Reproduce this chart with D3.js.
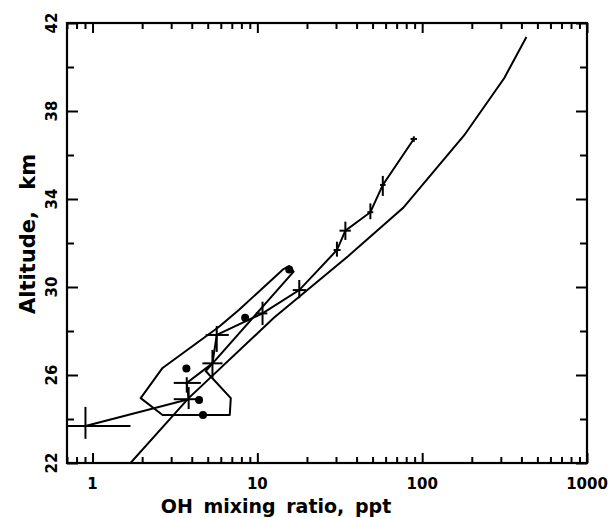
<!DOCTYPE html>
<html>
<head>
<meta charset="utf-8">
<script src="https://cdn.jsdelivr.net/npm/d3@7"></script>
<style>
  body { margin: 0; background: #fff; }
  text { font-family: 'DejaVu Sans', sans-serif; fill: #000; }
</style>
</head>
<body>
<svg id="chart" width="610" height="518"></svg>
<script>
// model profile (smooth curve)
const modelOH = [1.70, 3.83, 12.6, 35.5, 76.7, 180, 315, 429];
const modelAlt = [22.0, 24.95, 28.6, 31.4, 33.6, 36.9, 39.5, 41.36];

// measured profile with error bars
const obsOH = [0.906, 3.83, 3.73, 5.34, 5.67, 10.75, 17.96, 30.4, 34.2, 48.5, 57.7, 89.0];
const obsAlt = [23.68, 24.9, 25.64, 26.53, 27.82, 28.8, 29.86, 31.68, 32.56, 33.4, 34.64, 36.73];
const obsOHlo = [0.45, 3.11, 3.11, 4.64, 4.86, 9.79, 16.4, 29.0, 31.5, 46.5, 55.5, 85];
const obsOHhi = [1.70, 4.45, 4.54, 6.15, 6.71, 11.5, 19.75, 32.0, 36.9, 50.5, 60, 93];
const obsAltLo = [23.1, 24.45, 25.2, 25.86, 27.05, 28.27, 29.49, 31.38, 32.14, 33.08, 34.14, 36.6];
const obsAltHi = [24.55, 25.45, 25.9, 27.14, 28.23, 29.33, 30.32, 32.06, 32.97, 33.8, 35.05, 36.85];

// envelope polygon
const envOH = [1.96, 2.66, 5.83, 7.72, 14.3, 15.6, 16.6, 4.86, 6.90, 6.80, 2.66];
const envAlt = [24.95, 26.32, 28.18, 28.95, 30.8, 30.95, 30.7, 26.18, 24.95, 24.18, 24.18];

// single points
const dotOH = [3.71, 4.43, 4.68, 8.43, 15.6];
const dotAlt = [26.3, 24.86, 24.18, 28.6, 30.8];

const xTicks = [1, 10, 100, 1000];
const yTicks = [22, 26, 30, 34, 38, 42];
const yMinor = [24, 28, 32, 36, 40];

const m = { left: 67, right: 587, top: 23, bottom: 463 };

const svg = d3.select('#chart');
const x = d3.scaleLog().domain([0.7, 1000]).range([m.left, m.right]);
const y = d3.scaleLinear().domain([22, 42]).range([m.bottom, m.top]);

svg.append('defs').append('clipPath').attr('id', 'clip')
  .append('rect').attr('x', m.left).attr('y', m.top)
  .attr('width', m.right - m.left).attr('height', m.bottom - m.top);

const xMinor = [];
[0.1, 1, 10, 100].forEach((d) => {
  for (let k = 2; k <= 9; k++) {
    const v = d * k;
    if (v >= 0.7 && v <= 1000) xMinor.push(v);
  }
});

// axes: ticks inward on all four sides
svg.append('g').attr('transform', `translate(0,${m.bottom})`)
  .call(d3.axisTop(x).tickValues(xTicks).tickSize(10).tickFormat(''));
svg.append('g').attr('transform', `translate(0,${m.bottom})`)
  .call(d3.axisTop(x).tickValues(xMinor).tickSize(6).tickFormat(''));
svg.append('g').attr('transform', `translate(0,${m.top})`)
  .call(d3.axisBottom(x).tickValues(xTicks).tickSize(10).tickFormat(''));
svg.append('g').attr('transform', `translate(0,${m.top})`)
  .call(d3.axisBottom(x).tickValues(xMinor).tickSize(6).tickFormat(''));
svg.append('g').attr('transform', `translate(${m.left},0)`)
  .call(d3.axisRight(y).tickValues(yTicks).tickSize(11).tickFormat(''));
svg.append('g').attr('transform', `translate(${m.left},0)`)
  .call(d3.axisRight(y).tickValues(yMinor).tickSize(7).tickFormat(''));
svg.append('g').attr('transform', `translate(${m.right},0)`)
  .call(d3.axisLeft(y).tickValues(yTicks).tickSize(11).tickFormat(''));
svg.append('g').attr('transform', `translate(${m.right},0)`)
  .call(d3.axisLeft(y).tickValues(yMinor).tickSize(7).tickFormat(''));

svg.selectAll('.domain').remove();
svg.selectAll('.tick line').attr('stroke', '#000').attr('stroke-width', 2);

svg.append('rect')
  .attr('x', m.left).attr('y', m.top)
  .attr('width', m.right - m.left).attr('height', m.bottom - m.top)
  .attr('fill', 'none').attr('stroke', '#000').attr('stroke-width', 2.2);

// tick labels
svg.selectAll('.xlab').data(xTicks).enter().append('text')
  .attr('x', (d) => x(d)).attr('y', 489)
  .attr('text-anchor', 'middle')
  .style('font-size', '15px').style('font-weight', 'bold')
  .text((d) => d);

svg.selectAll('.ylab').data(yTicks).enter().append('text')
  .attr('transform', (d) => `translate(57,${y(d)}) rotate(-90)`)
  .attr('text-anchor', 'middle')
  .style('font-size', '15px').style('font-weight', 'bold')
  .text((d) => d);

svg.append('text')
  .attr('x', 276).attr('y', 513)
  .attr('text-anchor', 'middle')
  .style('font-size', '19px').style('font-weight', 'bold')
  .style('word-spacing', '4px')
  .text('OH mixing ratio, ppt');

svg.append('text')
  .attr('transform', `translate(35,234) rotate(-90)`)
  .attr('text-anchor', 'middle')
  .style('font-size', '21px').style('font-weight', 'bold')
  .style('word-spacing', '14px')
  .text('Altitude, km');

const plot = svg.append('g').attr('clip-path', 'url(#clip)');

const line = d3.line().x((d) => x(d[0])).y((d) => y(d[1]));
const closed = d3.line().x((d) => x(d[0])).y((d) => y(d[1])).curve(d3.curveLinearClosed);

plot.append('path')
  .datum(modelOH.map((d, i) => [d, modelAlt[i]]))
  .attr('fill', 'none').attr('stroke', '#000').attr('stroke-width', 2)
  .attr('d', line);

plot.append('path')
  .datum(envOH.map((d, i) => [d, envAlt[i]]))
  .attr('fill', 'none').attr('stroke', '#000').attr('stroke-width', 2)
  .attr('stroke-linejoin', 'round')
  .attr('d', closed);

plot.append('path')
  .datum(obsOH.map((d, i) => [d, obsAlt[i]]))
  .attr('fill', 'none').attr('stroke', '#000').attr('stroke-width', 2)
  .attr('d', line);

// error bars
plot.selectAll('.hbar').data(obsOH).enter().append('line')
  .attr('x1', (d, i) => x(obsOHlo[i])).attr('x2', (d, i) => x(obsOHhi[i]))
  .attr('y1', (d, i) => y(obsAlt[i])).attr('y2', (d, i) => y(obsAlt[i]))
  .attr('stroke', '#000').attr('stroke-width', 2);
plot.selectAll('.vbar').data(obsOH).enter().append('line')
  .attr('x1', (d) => x(d)).attr('x2', (d) => x(d))
  .attr('y1', (d, i) => y(obsAltLo[i])).attr('y2', (d, i) => y(obsAltHi[i]))
  .attr('stroke', '#000').attr('stroke-width', 2);

plot.selectAll('.dot').data(dotOH).enter().append('circle')
  .attr('cx', (d) => x(d)).attr('cy', (d, i) => y(dotAlt[i]))
  .attr('r', 4).attr('fill', '#000');
</script>
</body>
</html>
